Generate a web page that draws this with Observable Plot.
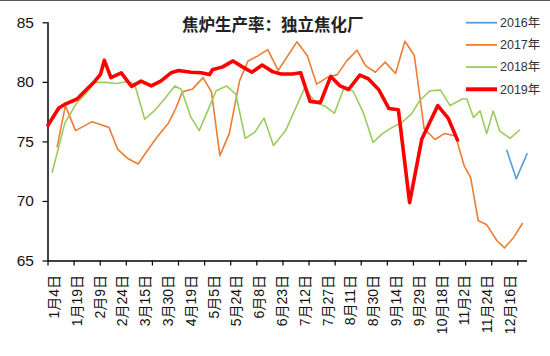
<!DOCTYPE html>
<html>
<head>
<meta charset="utf-8">
<script src="https://cdn.jsdelivr.net/npm/d3@7"></script>
<script src="https://cdn.jsdelivr.net/npm/@observablehq/plot@0.6"></script>
<style>
  html, body { margin: 0; padding: 0; background: #fff; }
  #wrap { position: relative; width: 550px; height: 356px; overflow: hidden; }
  #wrap .edge { position: absolute; left: 0; top: 0; width: 550px; height: 1px; background: #555; }
</style>
</head>
<body>
<div id="wrap"><div class="edge"></div></div>
<script>
// ---- data (x = position in weeks from 1月4日) ----
const titleText = "焦炉生产率：独立焦化厂";
const seriesNames = ["2016年", "2017年", "2018年", "2019年"];
const seriesColors = ["#5B9BD5", "#ED7D31", "#9BCB5F", "#FF0000"];
const seriesWidths = [1.6, 1.6, 1.6, 3.6];

const weeks2016 = [48.85, 49.85, 51.0];
const vals2016  = [74.3, 71.9, 74.0];

const weeks2017 = [0.98, 1.85, 2.93, 4.7, 6.5, 7.4, 8.5, 9.6, 10.6, 11.7, 12.8, 13.6, 14.3, 15.4, 16.5, 17.4, 18.3, 19.3, 20.4, 21.3, 22.3, 23.4, 24.5, 26.5, 27.6, 28.6, 29.7, 30.8, 31.8, 32.9, 33.8, 34.85, 35.9, 37.0, 38.0, 39.0, 40.05, 41.2, 42.2, 43.4, 44.3, 45.0, 45.8, 46.7, 47.8, 48.6, 49.6, 50.5];
const vals2017  = [74.6, 78.05, 75.95, 76.7, 76.2, 74.4, 73.6, 73.15, 74.3, 75.5, 76.55, 77.8, 79.2, 79.45, 80.4, 79.2, 73.85, 75.7, 80.15, 81.8, 82.2, 82.75, 81.0, 83.4, 82.25, 79.85, 80.4, 80.65, 81.8, 82.7, 81.4, 80.85, 81.7, 80.75, 83.45, 82.25, 76.1, 75.2, 75.7, 75.5, 73.0, 72.0, 68.4, 68.05, 66.7, 66.1, 67.0, 68.15];

const weeks2018 = [0.45, 1.8, 3.0, 4.1, 5.0, 6.2, 7.3, 8.3, 9.2, 10.3, 11.3, 12.4, 13.5, 14.2, 15.2, 16.1, 17.0, 17.9, 19.0, 20.0, 21.0, 22.0, 23.0, 24.0, 25.3, 27.3, 28.5, 29.5, 30.5, 31.5, 32.5, 33.6, 34.6, 35.6, 36.6, 37.7, 38.7, 39.6, 40.7, 41.8, 42.8, 44.1, 44.6, 45.3, 46.0, 46.7, 47.4, 48.1, 49.2, 50.2];
const vals2018  = [72.45, 76.6, 78.2, 79.1, 80.0, 80.0, 79.9, 80.05, 79.9, 76.9, 77.6, 78.6, 79.7, 79.4, 77.1, 75.95, 77.6, 79.3, 79.7, 79.0, 75.3, 75.8, 77.0, 74.7, 75.95, 79.5, 78.3, 78.0, 77.4, 79.5, 79.25, 77.4, 74.95, 75.7, 76.2, 76.65, 77.35, 78.5, 79.3, 79.35, 78.05, 78.6, 78.6, 77.05, 77.6, 75.7, 77.6, 75.9, 75.3, 76.0];

const weeks2019 = [0, 1.15, 1.9, 3.1, 4.1, 5.0, 5.6, 6.0, 6.7, 7.8, 8.9, 9.9, 11.0, 12.0, 13.1, 13.9, 15.2, 16.3, 17.2, 17.5, 18.6, 19.7, 20.7, 21.7, 22.8, 23.9, 24.8, 26.0, 26.9, 27.9, 29.0, 30.1, 31.1, 32.0, 33.2, 34.1, 35.2, 36.3, 37.3, 38.5, 39.8, 41.5, 42.6, 43.6];
const vals2019  = [76.4, 77.85, 78.2, 78.6, 79.4, 80.1, 80.7, 81.85, 80.4, 80.8, 79.65, 80.1, 79.7, 80.1, 80.8, 81.0, 80.85, 80.8, 80.65, 81.05, 81.3, 81.8, 81.3, 80.85, 81.45, 80.9, 80.7, 80.7, 80.8, 78.4, 78.3, 80.5, 79.7, 79.4, 80.6, 80.3, 79.4, 77.8, 77.7, 69.9, 75.25, 78.05, 77.0, 75.15];

const yTicks = [65, 70, 75, 80, 85];
const xLabels = ["1月4日", "1月19日", "2月9日", "2月24日", "3月15日", "3月30日", "4月19日", "5月5日", "5月24日", "6月8日", "6月23日", "7月12日", "7月27日", "8月11日", "8月30日", "9月14日", "9月29日", "10月18日", "11月2日", "11月24日", "12月16日"];

// ---- axis layout (category label / tick mark spacing, in weeks) ----
const xDomain = [0, 51.05];
const labelStart = 0.69, labelStep = 2.427;
const tickStep = 2.779, tickCount = 19;
const labelPos = xLabels.map((_, j) => labelStart + j * labelStep);
const labelMap = new Map(labelPos.map((p, j) => [p, xLabels[j]]));
const tickPos = d3.range(tickCount).map(k => k * tickStep);

const weeks = [weeks2016, weeks2017, weeks2018, weeks2019];
const vals = [vals2016, vals2017, vals2018, vals2019];
const rows = seriesNames.map((name, s) => weeks[s].map((w, i) => ({series: name, w, v: vals[s][i]})));

const font = "'Liberation Sans', Arial, 'Noto Sans CJK SC', sans-serif";

const chart = Plot.plot({
  width: 550,
  height: 356,
  marginLeft: 47.5,
  marginRight: 23,
  marginTop: 22.3,
  marginBottom: 95.5,
  style: {fontFamily: font, background: "white", color: "#000", overflow: "visible"},
  x: {domain: xDomain, axis: null},
  y: {domain: [65, 85], axis: null},
  marks: [
    Plot.axisY(yTicks, {label: null, tickSize: 5, tickPadding: 9, fontSize: 15.5, stroke: "#000", strokeWidth: 1.2, fill: "#111"}),
    Plot.axisX(tickPos, {label: null, tickSize: 5, tickFormat: () => "", stroke: "#000", strokeWidth: 1.2}),
    Plot.axisX(labelPos, {label: null, tickSize: 0, tickPadding: 14, tickRotate: -90, fontSize: 14, fill: "#111", tickFormat: d => labelMap.get(d)}),
    Plot.ruleX([xDomain[0]], {stroke: "#000", strokeWidth: 1.5}),
    Plot.ruleY([65], {stroke: "#000", strokeWidth: 1.5}),
    ...rows.map((r, s) => Plot.line(r, {x: "w", y: "v", stroke: seriesColors[s], strokeWidth: seriesWidths[s], strokeLinejoin: "round"})),
    Plot.text([titleText], {frameAnchor: "top", dx: -15, dy: 3, fontSize: 16.5, fontWeight: "bold", fill: "#222", lineAnchor: "middle", fontFamily: "'Noto Sans CJK SC', sans-serif"})
  ]
});

document.getElementById("wrap").appendChild(chart);

// ---- legend (top right, inside the plot area) ----
const svg = d3.select(chart);
const lg = svg.append("g").attr("font-family", font).attr("font-size", 12.5).attr("text-anchor", "start");
const legendX = 466, legendLen = 31, legendY0 = 22.7, legendDy = 22.2;
seriesNames.forEach((name, s) => {
  const y = legendY0 + s * legendDy;
  lg.append("line").attr("x1", legendX).attr("x2", legendX + legendLen).attr("y1", y).attr("y2", y)
    .attr("stroke", seriesColors[s]).attr("stroke-width", s === 3 ? 4 : 1.8);
  lg.append("text").attr("x", legendX + legendLen + 3).attr("y", y).attr("dy", "0.35em")
    .attr("text-anchor", "start").attr("fill", "#333").text(name);
});
</script>
</body>
</html>
